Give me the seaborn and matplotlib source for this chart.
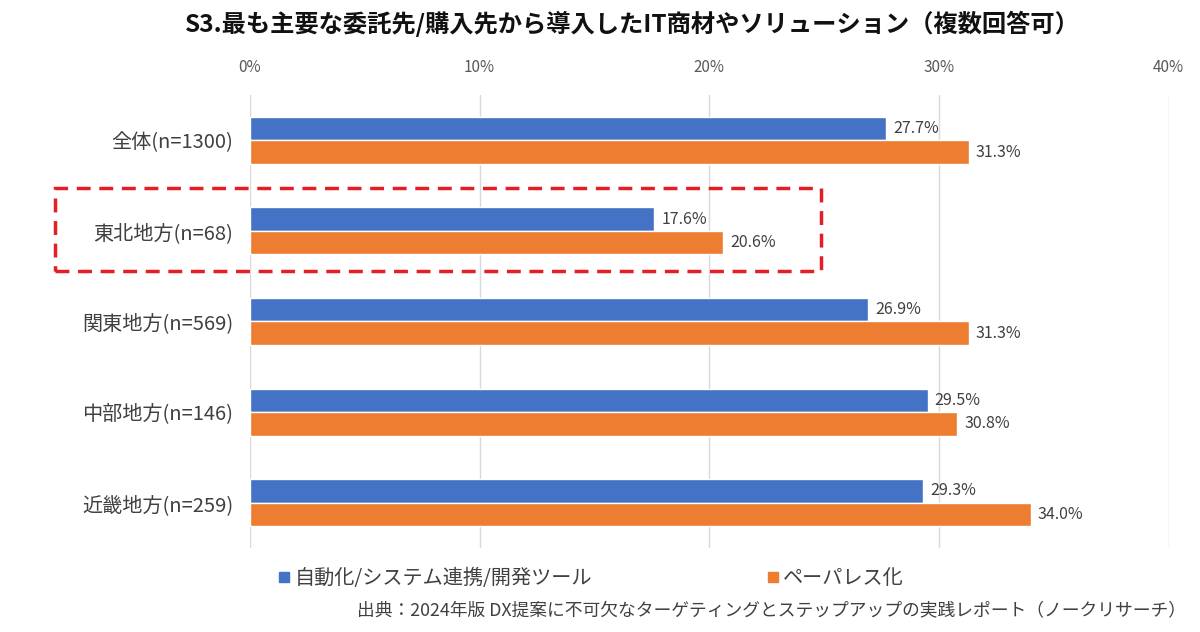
import matplotlib
matplotlib.use("Agg")
import matplotlib.pyplot as plt
import seaborn as sns
import pandas as pd
from matplotlib.patches import Rectangle
from matplotlib.lines import Line2D

categories = ["全体(n=1300)", "東北地方(n=68)", "関東地方(n=569)", "中部地方(n=146)", "近畿地方(n=259)"]
series_names = ["自動化/システム連携/開発ツール", "ペーパレス化"]
automation = [27.7, 17.6, 26.9, 29.5, 29.3]
paperless = [31.3, 20.6, 31.3, 30.8, 34.0]
x_ticks = [0, 10, 20, 30, 40]
x_tick_labels = ["0%", "10%", "20%", "30%", "40%"]
title = "S3.最も主要な委託先/購入先から導入したIT商材やソリューション（複数回答可）"
source = "出典：2024年版 DX提案に不可欠なターゲティングとステップアップの実践レポート（ノークリサーチ）"

colors = ["#4472C4", "#ED7D31"]

df = pd.DataFrame({
    "category": categories * 2,
    "series": [series_names[0]] * len(categories) + [series_names[1]] * len(categories),
    "value": automation + paperless,
})

sns.set_theme(style="white")
plt.rcParams["font.family"] = ["Noto Sans CJK JP", "DejaVu Sans"]

fig = plt.figure(figsize=(12, 6.32), dpi=100)
ax = fig.add_axes([0.2083, 0.133, 0.7657, 0.7167])

sns.barplot(data=df, y="category", x="value", hue="series", order=categories,
            hue_order=series_names, palette=colors, orient="h", width=0.52,
            ax=ax, legend=False, saturation=1)

for cont in ax.containers:
    ax.bar_label(cont, labels=[f"{v:.1f}%" for v in cont.datavalues], padding=5,
                 fontsize=11.5, color="#404040")

ax.set_xlim(0, 40)
ax.set_xticks(x_ticks)
ax.set_xticklabels(x_tick_labels, fontsize=11, color="#595959")
ax.xaxis.tick_top()
ax.tick_params(axis="x", length=0, pad=14)
ax.tick_params(axis="y", length=0, pad=12, labelsize=14.5, labelcolor="#404040")
ax.set_xlabel("")
ax.set_ylabel("")
ax.grid(axis="x", color="#D9D9D9", linewidth=1)
ax.set_axisbelow(True)
for s in ax.spines.values():
    s.set_visible(False)

fig.text(0.527, 0.962, title, ha="center", va="center", fontsize=17.5,
         fontweight="bold", color="#111111")

# highlight box around 東北地方
rect = Rectangle((0.046, 0.571), 0.638, 0.132, transform=fig.transFigure,
                 fill=False, edgecolor="#E31E24", linestyle=(0, (4, 2.5)),
                 linewidth=2.5)
fig.add_artist(rect)

handles = [Line2D([0], [0], marker="s", linestyle="none", markersize=7,
                  markerfacecolor=c, markeredgecolor=c) for c in colors]
fig.legend(handles, series_names, loc="center left", bbox_to_anchor=(0.215, 0.085),
           ncol=2, frameon=False, fontsize=14.5, handletextpad=0.1,
           columnspacing=8.6, handlelength=0.8, labelcolor="#404040")

fig.text(0.988, 0.035, source, ha="right", va="center", fontsize=12.8, color="#404040")

fig.savefig("out.png", dpi=100, facecolor="white")
